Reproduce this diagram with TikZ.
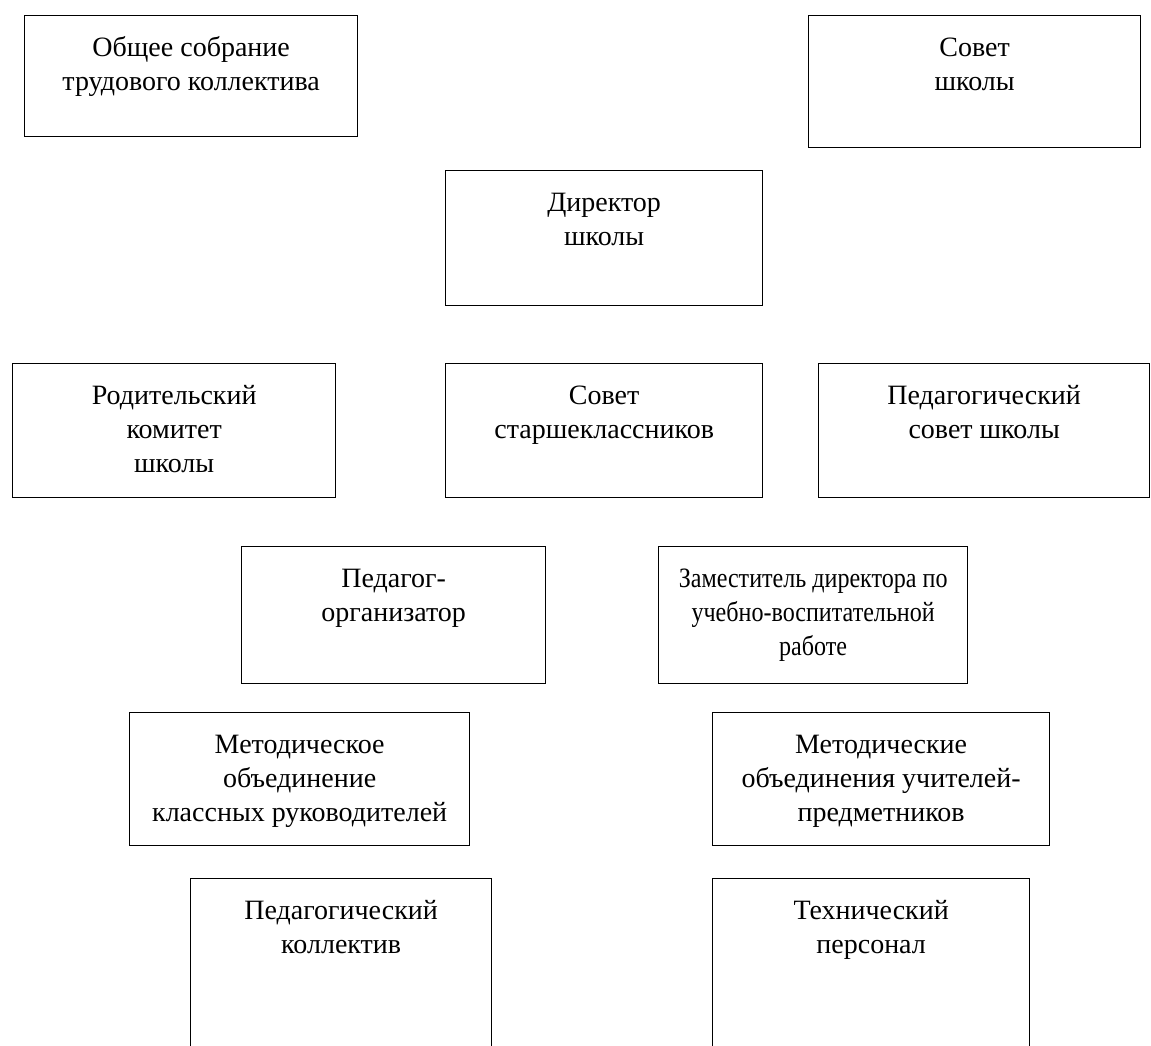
\documentclass[tikz,border=0pt]{standalone}
\usepackage{fontspec}
\setmainfont{Liberation Serif}
\newfontfamily\condfont[FakeStretch=0.86]{Liberation Serif}
\tikzset{
  orgbox/.style={draw, line width=1.3pt, inner sep=0pt, anchor=north west},
}
\newcommand{\boxtext}[3]{\parbox[t][#2pt][t]{#1pt}{\centering\fontsize{28}{34}\selectfont\rule{0pt}{41pt}#3\par}}
\begin{document}
\begin{tikzpicture}[x=1pt,y=-1pt]
\useasboundingbox (0,0) rectangle (1151,1046);
\node[orgbox] (sobr) at (24,15) {\boxtext{333}{121}{Общее собрание\\трудового коллектива}};
\node[orgbox] (sovet) at (808,15) {\boxtext{332}{132}{Совет\\школы}};
\node[orgbox] (dir) at (445,170) {\boxtext{317}{135}{Директор\\школы}};
\node[orgbox] (rodkom) at (12,363) {\boxtext{323}{134}{Родительский\\комитет\\школы}};
\node[orgbox] (starsh) at (445,363) {\boxtext{317}{134}{Совет\\старшеклассников}};
\node[orgbox] (pedsov) at (818,363) {\boxtext{331}{134}{Педагогический\\совет школы}};
\node[orgbox] (pedorg) at (241,546) {\boxtext{304}{137}{Педагог-\\организатор}};
\node[orgbox] (zam) at (658,546) {\boxtext{309}{137}{\condfont Заместитель директора по\\учебно-воспитательной\\работе}};
\node[orgbox] (mokl) at (129,712) {\boxtext{340}{133}{Методическое\\объединение\\классных руководителей}};
\node[orgbox] (mopr) at (712,712) {\boxtext{337}{133}{Методические\\объединения учителей-\\предметников}};
\node[orgbox] (pedkol) at (190,878) {\boxtext{301}{180}{Педагогический\\коллектив}};
\node[orgbox] (tech) at (712,878) {\boxtext{317}{180}{Технический\\персонал}};
\end{tikzpicture}
\end{document}
